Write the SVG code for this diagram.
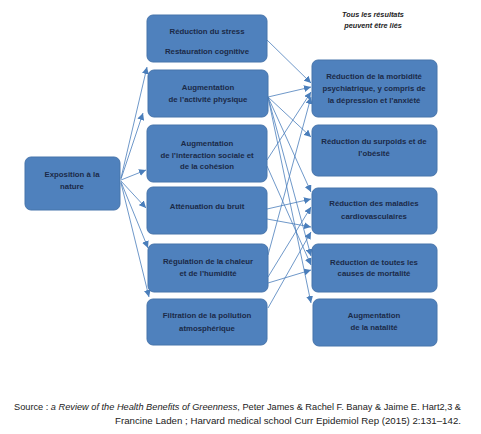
<svg xmlns="http://www.w3.org/2000/svg" width="481" height="434" viewBox="0 0 481 434">
<defs>
<marker id="ah" viewBox="0 0 10 10" refX="10" refY="5" markerWidth="7" markerHeight="7" markerUnits="userSpaceOnUse" orient="auto">
<path d="M0,0 L10,5 L0,10 z" fill="#4a7ebb"/>
</marker>
<style>
.box{fill:#4f81bd;stroke:#4674ab;stroke-width:1}
.t{font-family:"Liberation Sans",Arial,sans-serif;font-weight:bold;font-size:7.8px;fill:#1b2a48;text-anchor:middle}
.c line{stroke:#4a7ebb;stroke-width:0.8;marker-end:url(#ah)}
.note{font-family:"Liberation Sans",Arial,sans-serif;font-weight:bold;font-style:italic;font-size:7.3px;fill:#222;text-anchor:middle}
.src{font-family:"Liberation Sans",Arial,sans-serif;font-size:9px;fill:#222}
</style>
</defs>
<rect width="481" height="434" fill="#fff"/>
<g class="c">
<line x1="121" y1="178" x2="147" y2="67"/>
<line x1="121" y1="179" x2="143" y2="113"/>
<line x1="121" y1="180" x2="146" y2="170"/>
<line x1="121" y1="181" x2="146" y2="208"/>
<line x1="121" y1="182" x2="148" y2="248"/>
<line x1="121" y1="183" x2="149" y2="297"/>
<line x1="267" y1="40" x2="311" y2="83"/>
<line x1="268" y1="97" x2="311" y2="87"/>
<line x1="268" y1="97" x2="311" y2="137"/>
<line x1="268" y1="97" x2="311" y2="192"/>
<line x1="268" y1="97" x2="311" y2="256"/>
<line x1="268" y1="97" x2="311" y2="303"/>
<line x1="267" y1="160" x2="311" y2="92"/>
<line x1="267" y1="166" x2="311" y2="265"/>
<line x1="267" y1="209" x2="311" y2="199"/>
<line x1="267" y1="219" x2="311" y2="227"/>
<line x1="268" y1="255" x2="311" y2="97"/>
<line x1="268" y1="277" x2="311" y2="207"/>
<line x1="268" y1="283" x2="311" y2="270"/>
<line x1="268" y1="308" x2="311" y2="232"/>
</g>
<g id="n0"><rect class="box" x="25" y="157" width="95" height="53" rx="6"/><text class="t" x="72" y="177">Exposition à la</text><text class="t" x="72" y="189">nature</text></g>
<g id="m1"><rect class="box" x="147" y="15" width="120" height="47" rx="6"/><text class="t" x="207" y="34">Réduction du stress</text><text class="t" x="207" y="54">Restauration cognitive</text></g>
<g id="m2"><rect class="box" x="148" y="70" width="120" height="47" rx="6"/><text class="t" x="208" y="90">Augmentation</text><text class="t" x="208" y="102">de l’activité physique</text></g>
<g id="m3"><rect class="box" x="147" y="125" width="120" height="57" rx="6"/><text class="t" x="207" y="146">Augmentation</text><text class="t" x="207" y="158">de l’interaction sociale et</text><text class="t" x="207" y="169">de la cohésion</text></g>
<g id="m4"><rect class="box" x="147" y="187" width="120" height="47" rx="6"/><text class="t" x="207" y="209">Atténuation du bruit</text></g>
<g id="m5"><rect class="box" x="148" y="244" width="120" height="48" rx="6"/><text class="t" x="208" y="264">Régulation de la chaleur</text><text class="t" x="208" y="276">et de l’humidité</text></g>
<g id="m6"><rect class="box" x="147" y="299" width="120" height="46" rx="6"/><text class="t" x="207" y="318">Filtration de la pollution</text><text class="t" x="207" y="331">atmosphérique</text></g>
<g id="r1"><rect class="box" x="312" y="60" width="125" height="57" rx="6"/><text class="t" x="374" y="79">Réduction de la morbidité</text><text class="t" x="374" y="91">psychiatrique, y compris de</text><text class="t" x="374" y="103">la dépression et l’anxiété</text></g>
<g id="r2"><rect class="box" x="312" y="125" width="125" height="51" rx="6"/><text class="t" x="374" y="144">Réduction du surpoids et de</text><text class="t" x="374" y="156">l’obésité</text></g>
<g id="r3"><rect class="box" x="312" y="188" width="125" height="46" rx="6"/><text class="t" x="374" y="206">Réduction des maladies</text><text class="t" x="374" y="219">cardiovasculaires</text></g>
<g id="r4"><rect class="box" x="312" y="244" width="125" height="48" rx="6"/><text class="t" x="374" y="265">Réduction de toutes les</text><text class="t" x="374" y="276">causes de mortalité</text></g>
<g id="r5"><rect class="box" x="313" y="299" width="124" height="47" rx="6"/><text class="t" x="374" y="318">Augmentation</text><text class="t" x="374" y="330">de la natalité</text></g>
<text class="note" x="373" y="17">Tous les résultats</text>
<text class="note" x="373" y="28">peuvent être liés</text>
<text class="src" x="14" y="410" textLength="447" lengthAdjust="spacingAndGlyphs">Source : <tspan font-style="italic">a Review of the Health Benefits of Greenness</tspan>, Peter James &amp; Rachel F. Banay &amp; Jaime E. Hart2,3 &amp;</text>
<text class="src" x="115" y="424" textLength="346" lengthAdjust="spacingAndGlyphs">Francine Laden ; Harvard medical school Curr Epidemiol Rep (2015) 2:131–142.</text>
</svg>
